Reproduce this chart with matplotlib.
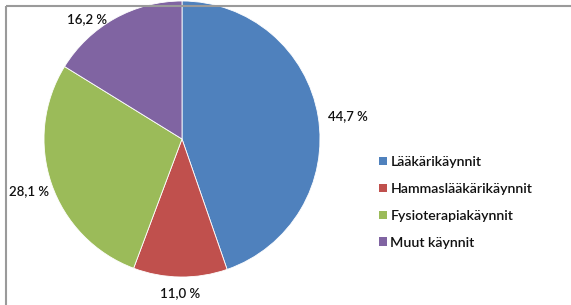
import numpy as np
import matplotlib
matplotlib.use("Agg")
import matplotlib.pyplot as plt
from matplotlib.patches import Patch
from matplotlib.lines import Line2D

categories = ["Lääkärikäynnit", "Hammaslääkärikäynnit", "Fysioterapiakäynnit", "Muut käynnit"]
shares = [44.7, 11.0, 28.1, 16.2]
colors = ["#4F81BD", "#C0504D", "#9BBB59", "#8064A2"]

W, H = 571, 305
plt.rcParams['font.family'] = ['Lato', 'DejaVu Sans']

fig = plt.figure(figsize=(W / 100, H / 100), dpi=100)
ax = fig.add_axes([0, 0, 1, 1])

# pie centre and radius in pixel units (y measured from bottom)
cx, cy, r = 182, H - 139, 138
wedges, _ = ax.pie(shares, colors=colors, startangle=90, counterclock=False,
                   center=(cx, cy), radius=r,
                   wedgeprops=dict(linewidth=0.6, edgecolor='white'))
ax.set_xlim(0, W)
ax.set_ylim(0, H)
ax.set_aspect('equal')
ax.axis('off')

# label placement: distance factor and nudges (pixels), like Excel "outside end"
dist = [1.21, 1.12, 1.17, 1.12]
nudge = [(1, -5), (0, 0), (0, 0), (-20, -15)]
for w, val, d, (dx, dy) in zip(wedges, shares, dist, nudge):
    ang = np.deg2rad((w.theta1 + w.theta2) / 2)
    x = cx + d * r * np.cos(ang) + dx
    y = cy + d * r * np.sin(ang) + dy
    ax.text(x, y, f"{val:.1f} %".replace('.', ','), ha='center', va='center',
            fontsize=9.5, color='#111111', fontweight='semibold')

handles = [Patch(facecolor=c, edgecolor='none') for c in colors]
fig.legend(handles, categories, loc='upper left', bbox_to_anchor=(372 / W, 1 - 149 / H),
           frameon=False, prop=dict(size=10.2, weight='semibold'), handlelength=0.55,
           handleheight=0.55, handletextpad=0.25, labelspacing=1.05, borderpad=0,
           labelcolor='#111111')

# outer border: only the top and left edges fall inside the picture
top = 1 - 5.5 / H
left = 5.5 / W
fig.lines.append(Line2D([left, left], [-0.1, top], transform=fig.transFigure,
                        color='#9a9a9a', linewidth=1.5, solid_capstyle='butt'))
fig.lines.append(Line2D([left, 1.1], [top, top], transform=fig.transFigure,
                        color='#9a9a9a', linewidth=1.5, solid_capstyle='butt'))

fig.savefig("out.png", dpi=100)
